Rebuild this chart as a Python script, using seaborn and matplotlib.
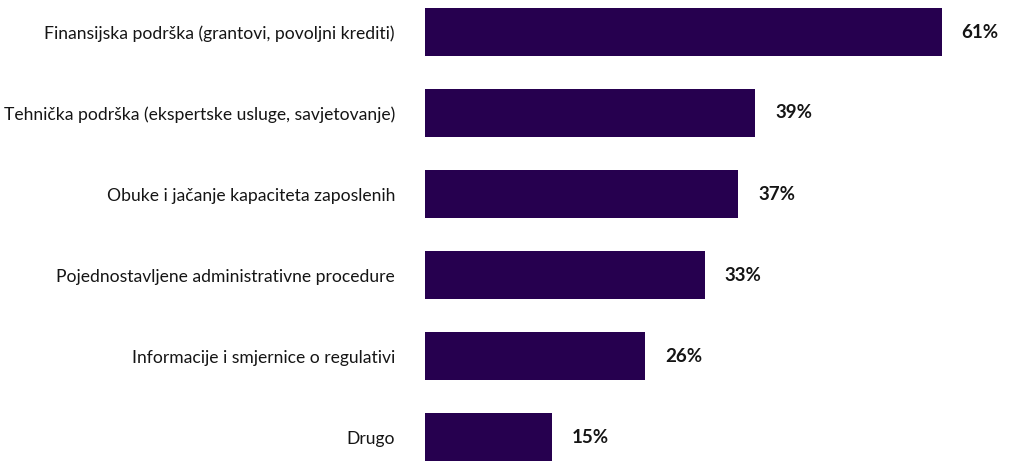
import matplotlib
matplotlib.use("Agg")
import matplotlib.pyplot as plt
import seaborn as sns
import pandas as pd

categories = [
    "Finansijska podrška (grantovi, povoljni krediti)",
    "Tehnička podrška (ekspertske usluge, savjetovanje)",
    "Obuke i jačanje kapaciteta zaposlenih",
    "Pojednostavljene administrativne procedure",
    "Informacije i smjernice o regulativi",
    "Drugo",
]
values = [61, 39, 37, 33, 26, 15]
labels = [f"{v}%" for v in values]

sns.set_theme(style="white")
plt.rcParams["font.family"] = ["Lato", "DejaVu Sans"]

df = pd.DataFrame({"cat": categories, "val": values})

W, H = 1011, 461
fig = plt.figure(figsize=(W / 100, H / 100), dpi=100)
ax = fig.add_axes([425 / W, 0, 576 / W, 1])
sns.barplot(data=df, x="val", y="cat", orient="h", color="#26004F",
            saturation=1, width=0.593, linewidth=0, ax=ax)
ax.set_xlim(0, 68)
ax.set_ylim(5 + 24 / 81, -32 / 81)
for i, (v, lab) in enumerate(zip(values, labels)):
    ax.annotate(lab, (v, i), xytext=(14.4, 0), textcoords="offset points",
                va="center", ha="left", fontsize=13.5, fontweight="bold",
                color="#151515")
ax.set_xlabel("")
ax.set_ylabel("")
ax.set_xticks([])
ax.tick_params(axis="y", length=0, pad=21.6, labelsize=12.6, labelcolor="#151515")
sns.despine(ax=ax, left=True, bottom=True)
fig.savefig("out.png", dpi=100)
